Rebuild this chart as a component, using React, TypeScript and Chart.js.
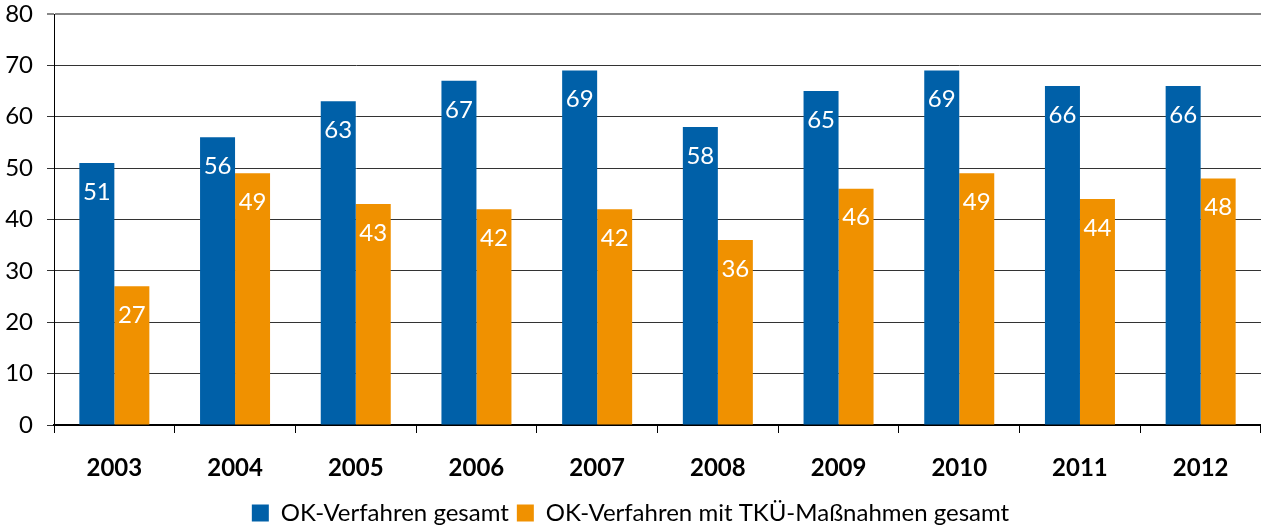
import React, { useEffect, useRef } from "react";
import { Chart, registerables } from "chart.js";

Chart.register(...registerables);

const years = ["2003", "2004", "2005", "2006", "2007", "2008", "2009", "2010", "2011", "2012"];
const okGesamt = [51, 56, 63, 67, 69, 58, 65, 69, 66, 66];
const okTku = [27, 49, 43, 42, 42, 36, 46, 49, 44, 48];
const seriesNames = ["OK-Verfahren gesamt", "OK-Verfahren mit TKÜ-Maßnahmen gesamt"];

const FONT = "Lato, 'Open Sans', sans-serif";

const labelPlugin = {
  id: "barLabels",
  afterDatasetsDraw(chart: any) {
    const ctx = chart.ctx;
    ctx.save();
    ctx.fillStyle = "#ffffff";
    ctx.font = `24px ${FONT}`;
    ctx.textAlign = "center";
    ctx.textBaseline = "middle";
    chart.data.datasets.forEach((ds: any, i: number) => {
      const meta = chart.getDatasetMeta(i);
      meta.data.forEach((bar: any, j: number) => {
        ctx.fillText(String(ds.data[j]), bar.x, bar.y + 29);
      });
    });
    ctx.restore();
  },
};

export default function App() {
  const ref = useRef<HTMLCanvasElement>(null);
  useEffect(() => {
    const chart = new Chart(ref.current!, {
      type: "bar",
      data: {
        labels: years,
        datasets: [
          { label: seriesNames[0], data: okGesamt, backgroundColor: "#0060a8", categoryPercentage: 0.58, barPercentage: 1 },
          { label: seriesNames[1], data: okTku, backgroundColor: "#f09100", categoryPercentage: 0.58, barPercentage: 1 },
        ],
      },
      options: {
        animation: false,
        responsive: false,
        maintainAspectRatio: false,
        layout: { padding: { left: 0, right: 0, top: 14, bottom: -7 } },
        plugins: {
          tooltip: { enabled: false },
          legend: {
            position: "bottom",
            labels: {
              boxWidth: 17,
              boxHeight: 17,
              padding: 8,
              color: "#000",
              font: { family: FONT, size: 24 },
            },
          },
        },
        scales: {
          x: {
            afterFit: (s: any) => {
              s.height = 68;
            },
            grid: {
              display: true,
              drawOnChartArea: false,
              drawTicks: true,
              tickLength: 8,
              color: "#000",
              offset: true,
            },
            border: { color: "#000", width: 2 },
            ticks: { color: "#000", font: { family: FONT, size: 24, weight: "bold" }, padding: 21 },
          },
          y: {
            min: 0,
            max: 80,
            afterFit: (s: any) => {
              s.width = 54;
              s.paddingTop = 0;
              s.paddingBottom = 0;
            },
            ticks: { stepSize: 10, color: "#000", font: { family: FONT, size: 24 }, padding: 14 },
            grid: {
              tickLength: 7,
              color: (c: any) => (c.tick && c.tick.value === 80 ? "#888" : "#333"),
              lineWidth: (c: any) => (c.tick && c.tick.value === 80 ? 2 : 1),
            },
            border: { color: "#000", width: 1 },
          },
        },
      },
      plugins: [labelPlugin],
    });
    return () => chart.destroy();
  }, []);
  return (
    <div style={{ position: "fixed", left: 0, top: 0, width: 1261, height: 528, background: "#fff" }}>
      <canvas ref={ref} width={1261} height={528} style={{ width: 1261, height: 528 }} />
    </div>
  );
}
